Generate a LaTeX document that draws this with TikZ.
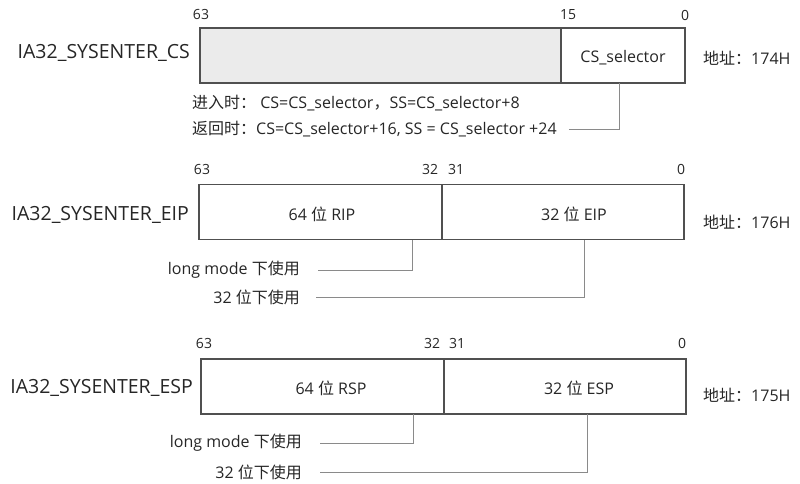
\documentclass[tikz,border=0pt]{standalone}
\usepackage{fontspec}
\setmainfont{Open Sans}
\newfontfamily\cjk{Noto Sans CJK SC}
\usepackage{tikz}
\usetikzlibrary{calc}
\definecolor{boxline}{HTML}{505050}
\definecolor{boxfill}{HTML}{EBEBEB}
\definecolor{connline}{HTML}{8A8A8A}
\definecolor{inktext}{HTML}{262626}
\tikzset{ regbox/.style = {rectangle, draw=boxline, line width=1.1pt, minimum height=55pt, inner sep=0pt, outer sep=0pt} }
\tikzset{ regname/.style = {anchor=east, inner sep=0pt, text=inktext, font=\fontsize{19.5}{22}\selectfont} }
\tikzset{ bitno/.style = {inner sep=0pt, text=inktext, font=\fontsize{14}{16}\selectfont} }
\tikzset{ field/.style = {inner sep=0pt, text=inktext, font=\fontsize{16}{18}\selectfont} }
\tikzset{ note/.style = {inner sep=0pt, text=inktext, font=\fontsize{16}{18}\selectfont} }
\tikzset{ conn/.style = {draw=connline, line width=0.9pt} }

\begin{document}
\begin{tikzpicture}[x=1pt,y=-1pt]
    \useasboundingbox (0,0) rectangle (800,484);
    % IA32_SYSENTER_CS
    \node [style=regname] (cs_name) at (190,53) {IA32\_SYSENTER\_CS};
    \node [style=regbox, fill=boxfill, minimum width=361pt] (cs_hi) at (380.5,55.5) {};
    \node [style=regbox, minimum width=124pt] (cs_lo) at (623,55.5) {};
    \node [style=field] (cs_sel) at (623,58) {CS\_selector};
    \node [style=bitno] (cs_b63) at (201,15) {63};
    \node [style=bitno] (cs_b15) at (568,15) {15};
    \node [style=bitno] (cs_b0) at (685,15) {0};
    \node [style=note, anchor=west] (cs_addr) at (703,58) {{\cjk 地址：}174H};
    \node [style=note, anchor=west] (cs_enter) at (192,103) {{\cjk 进入时：} CS=CS\_selector{\cjk ，}SS=CS\_selector+8};
    \node [style=note, anchor=west] (cs_ret) at (192,129) {{\cjk 返回时：}CS=CS\_selector+16, SS = CS\_selector +24};
    \coordinate (cs_tap) at (619,83);
    \draw [style=conn] ([xshift=12pt]cs_ret.east) -| (cs_tap);

    % IA32_SYSENTER_EIP
    \node [style=regname] (eip_name) at (189,215) {IA32\_SYSENTER\_EIP};
    \node [style=regbox, minimum width=243pt] (eip_hi) at (320.5,212) {};
    \node [style=regbox, minimum width=242pt] (eip_lo) at (563,212) {};
    \node [style=field] (eip_rip) at (322,214) {64 {\cjk 位} RIP};
    \node [style=field] (eip_eip) at (574,214) {32 {\cjk 位} EIP};
    \node [style=bitno] (eip_b63) at (202,169) {63};
    \node [style=bitno] (eip_b32) at (430,169) {32};
    \node [style=bitno] (eip_b31) at (456,169) {31};
    \node [style=bitno] (eip_b0) at (681,169) {0};
    \node [style=note, anchor=west] (eip_addr) at (703,222) {{\cjk 地址：}176H};
    \node [style=note, anchor=east] (eip_lm) at (300,270) {long mode {\cjk 下使用}};
    \node [style=note, anchor=east] (eip_32) at (300,297) {32 {\cjk 位下使用}};
    \coordinate (eip_lm_tap) at (412,240);
    \coordinate (eip_32_tap) at (584,240);
    \draw [style=conn] ([xshift=18pt]eip_lm.east) -| (eip_lm_tap);
    \draw [style=conn] ([xshift=16pt]eip_32.east) -| (eip_32_tap);

    % IA32_SYSENTER_ESP
    \node [style=regname] (esp_name) at (193,388) {IA32\_SYSENTER\_ESP};
    \node [style=regbox, minimum width=243pt] (esp_hi) at (322.5,386.5) {};
    \node [style=regbox, minimum width=242pt] (esp_lo) at (565,386.5) {};
    \node [style=field] (esp_rsp) at (331,388) {64 {\cjk 位} RSP};
    \node [style=field] (esp_esp) at (579,388) {32 {\cjk 位} ESP};
    \node [style=bitno] (esp_b63) at (204,343) {63};
    \node [style=bitno] (esp_b32) at (432,343) {32};
    \node [style=bitno] (esp_b31) at (457,343) {31};
    \node [style=bitno] (esp_b0) at (682,343) {0};
    \node [style=note, anchor=west] (esp_addr) at (703,395) {{\cjk 地址：}175H};
    \node [style=note, anchor=east] (esp_lm) at (302,443) {long mode {\cjk 下使用}};
    \node [style=note, anchor=east] (esp_32) at (302,472) {32 {\cjk 位下使用}};
    \coordinate (esp_lm_tap) at (413,414);
    \coordinate (esp_32_tap) at (587,414);
    \draw [style=conn] ([xshift=18pt]esp_lm.east) -| (esp_lm_tap);
    \draw [style=conn] ([xshift=18pt]esp_32.east) -| (esp_32_tap);
\end{tikzpicture}
\end{document}
